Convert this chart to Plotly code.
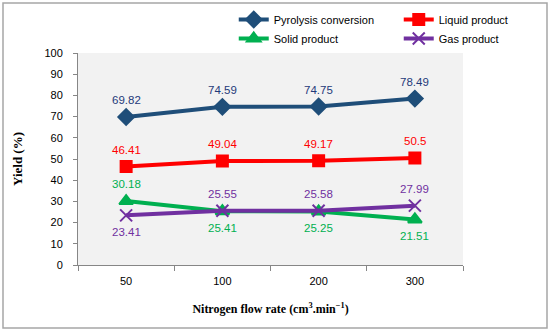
import plotly.graph_objects as go

categories = ["50", "100", "200", "300"]
pyrolysis = [69.82, 74.59, 74.75, 78.49]
liquid = [46.41, 49.04, 49.17, 50.5]
solid = [30.18, 25.41, 25.25, 21.51]
gas = [23.41, 25.55, 25.58, 27.99]

# label side per point: +1 above, -1 below
series = [
    ("Pyrolysis conversion", pyrolysis, "#1F4E79", "#1F3A7A", "diamond", 12, [1, 1, 1, 1]),
    ("Liquid product", liquid, "#FF0000", "#FF0000", "square", 11, [1, 1, 1, 1]),
    ("Solid product", solid, "#00B050", "#00B050", "triangle-up", 12, [1, -1, -1, -1]),
    ("Gas product", gas, "#7030A0", "#7030A0", "x-thin", 12, [-1, 1, 1, 1]),
]

fig = go.Figure()
annotations = []
for name, vals, col, tcol, sym, sz, sides in series:
    fig.add_trace(go.Scatter(
        x=categories, y=vals, name=name, mode="lines+markers",
        line=dict(color=col, width=4),
        marker=dict(symbol=sym, size=sz, color=col, line=dict(color=col, width=2)),
    ))
    for i, (v, s) in enumerate(zip(vals, sides)):
        annotations.append(dict(
            x=i, y=v, xref="x", yref="y", text=f"{v:g}", showarrow=False,
            yshift=17 * s, font=dict(color=tcol, size=11.5, family="Liberation Sans"),
        ))

fig.update_layout(
    width=550, height=331,
    margin=dict(l=78, r=87, t=53, b=66, autoexpand=False),
    paper_bgcolor="white", plot_bgcolor="#F2F2F2",
    font=dict(family="Liberation Sans", size=11, color="#000000"),
    legend=dict(orientation="h", xref="container", yref="container", x=0.425, y=0.985,
                xanchor="left", yanchor="top",
                entrywidth=120, font=dict(size=11), bgcolor="rgba(0,0,0,0)",
                tracegroupgap=0, itemwidth=30),
    annotations=annotations,
    xaxis=dict(type="category", showgrid=False, showline=True, linecolor="#868686",
               ticks="outside", tickson="boundaries", ticklen=5, tickcolor="#868686",
               tickfont=dict(size=11), automargin=False, ticklabelstandoff=6,
               title=dict(text="Nitrogen flow rate (cm<sup>3</sup>.min<sup>−1</sup>)",
                          font=dict(family="Liberation Serif", size=12, weight="bold"), standoff=18),
               range=[-0.5, 3.5]),
    yaxis=dict(range=[0, 100], dtick=10, showgrid=False, showline=True, linecolor="#868686",
               ticks="outside", ticklen=4, tickcolor="#868686", tickfont=dict(size=11),
               zeroline=False, automargin=False, ticklabelstandoff=8,
               title=dict(text="Yield (%)", font=dict(family="Liberation Serif", size=13, weight="bold"),
                          standoff=18)),
    shapes=[dict(type="rect", xref="paper", yref="paper",
                 x0=(3 - 78) / 385, x1=(547 - 78) / 385,
                 y0=(265 - 328) / 212, y1=(265 - 3) / 212,
                 line=dict(color="#A6A6A6", width=1.5), fillcolor="rgba(0,0,0,0)", layer="below")],
)

fig.write_html("out.html", config={"displayModeBar": False},
               post_script="document.body.style.margin='0';")
